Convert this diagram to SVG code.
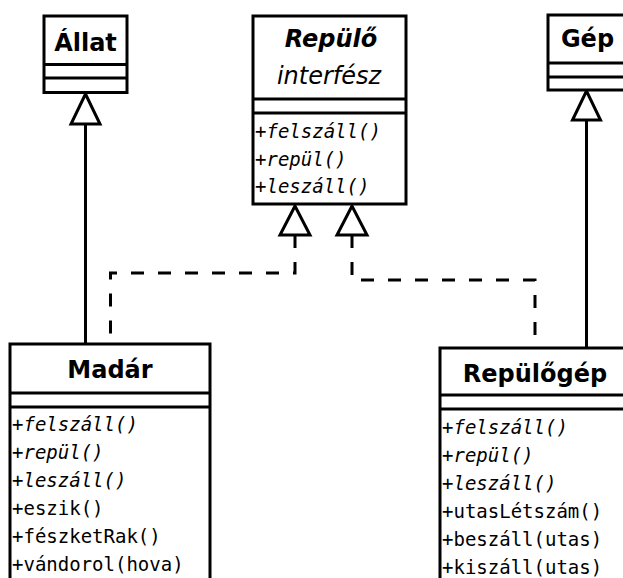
<svg xmlns="http://www.w3.org/2000/svg" width="623" height="578" viewBox="0 0 623 578">
<style>
.box{fill:#fff;stroke:#000;stroke-width:3}
.sep{stroke:#000;stroke-width:3}
.hd{font-family:"DejaVu Sans",sans-serif;font-weight:bold;font-size:24px;text-anchor:middle;fill:#000}
.m{font-family:"DejaVu Sans Mono",monospace;font-size:19px;fill:#000}
.i{font-style:italic}
.ln{fill:none;stroke:#000;stroke-width:3}
.dash{fill:none;stroke:#000;stroke-width:3;stroke-dasharray:13,14}
.tri{fill:#fff;stroke:#000;stroke-width:3;stroke-linejoin:miter}
</style>
<rect width="623" height="578" fill="#fff"/>
<g id="connectors">
<path class="ln" d="M85.5,124 V344"/>
<path class="ln" d="M586.5,120 V348"/>
<path class="dash" d="M295,235 V273 H110.5 V344"/>
<path class="dash" d="M352,235 V280 H535 V348"/>
<polygon class="tri" points="85.5,94 71,124 100,124"/>
<polygon class="tri" points="586.5,91 572.5,120 600.5,120"/>
<polygon class="tri" points="295,206 280,235 310,235"/>
<polygon class="tri" points="352,206 337,235 367,235"/>
</g>
<g id="allat">
<rect class="box" x="44" y="16" width="83" height="76.5"/>
<line class="sep" x1="44" y1="64.5" x2="127" y2="64.5"/>
<line class="sep" x1="44" y1="78" x2="127" y2="78"/>
<text class="hd" x="85.5" y="51">Állat</text>
</g>
<g id="gep">
<rect class="box" x="548" y="15" width="80" height="75"/>
<line class="sep" x1="548" y1="63" x2="628" y2="63"/>
<line class="sep" x1="548" y1="77" x2="628" y2="77"/>
<text class="hd" x="587.5" y="47">Gép</text>
</g>
<g id="repulo">
<rect class="box" x="253" y="16" width="153" height="188"/>
<line class="sep" x1="253" y1="99" x2="406" y2="99"/>
<line class="sep" x1="253" y1="113" x2="406" y2="113"/>
<text class="hd i" x="331" y="47">Repülő</text>
<text class="hd i" x="329" y="84" font-weight="normal" style="font-weight:normal">interfész</text>
<text class="m" x="255" y="138">+<tspan class="i">felszáll()</tspan></text>
<text class="m" x="255" y="165.5">+<tspan class="i">repül()</tspan></text>
<text class="m" x="255" y="193">+<tspan class="i">leszáll()</tspan></text>
</g>
<g id="madar">
<rect class="box" x="10" y="344" width="200" height="250"/>
<line class="sep" x1="10" y1="393" x2="210" y2="393"/>
<line class="sep" x1="10" y1="407" x2="210" y2="407"/>
<text class="hd" x="110" y="378">Madár</text>
<text class="m" x="12" y="431">+<tspan class="i">felszáll()</tspan></text>
<text class="m" x="12" y="459">+<tspan class="i">repül()</tspan></text>
<text class="m" x="12" y="487">+<tspan class="i">leszáll()</tspan></text>
<text class="m" x="12" y="515">+eszik()</text>
<text class="m" x="12" y="543">+fészketRak()</text>
<text class="m" x="12" y="571">+vándorol(hova)</text>
</g>
<g id="repulogep">
<rect class="box" x="440" y="348" width="190" height="250"/>
<line class="sep" x1="440" y1="395" x2="630" y2="395"/>
<line class="sep" x1="440" y1="409" x2="630" y2="409"/>
<text class="hd" x="535" y="382">Repülőgép</text>
<text class="m" x="442" y="434">+<tspan class="i">felszáll()</tspan></text>
<text class="m" x="442" y="462">+<tspan class="i">repül()</tspan></text>
<text class="m" x="442" y="490">+<tspan class="i">leszáll()</tspan></text>
<text class="m" x="442" y="518">+utasLétszám()</text>
<text class="m" x="442" y="546">+beszáll(utas)</text>
<text class="m" x="442" y="574">+kiszáll(utas)</text>
</g>
</svg>
